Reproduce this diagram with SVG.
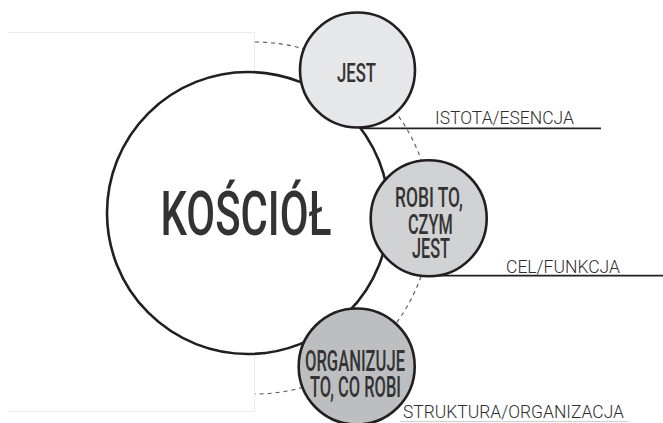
<svg xmlns="http://www.w3.org/2000/svg" width="663" height="423" viewBox="0 0 663 423">
  <style>
    .node { stroke: #231f20; stroke-width: 2.6; }
    .t { font-family: Roboto, "DejaVu Sans", "Liberation Sans", sans-serif; font-weight: 500; fill: #333333; text-anchor: middle; }
    .lbl { font-family: Roboto, "DejaVu Sans", "Liberation Sans", sans-serif; font-weight: 300; fill: #2e2e2e; font-size: 18px; }
    .rule { stroke: #231f20; stroke-width: 1.8; fill: none; }
  </style>
  <rect width="663" height="423" fill="#ffffff"/>
  <!-- faint frame -->
  <path d="M8 32.5 H254.5 V411.5 H8" fill="none" stroke="#ececec" stroke-width="1"/>

  <g id="connectors">
    <path id="orbit" d="M255 42 A176 176 0 0 1 255 394" fill="none" stroke="#555555" stroke-width="1.1" stroke-dasharray="4 4"/>
    <line class="rule" x1="357" y1="128.3" x2="601" y2="128.3"/>
    <line class="rule" x1="428" y1="275.7" x2="663" y2="275.7"/>
    <line x1="400" y1="421.5" x2="628" y2="421.5" stroke="#cfcfcf" stroke-width="1"/>
  </g>

  <g id="kosciol">
    <circle cx="248" cy="213" r="141" fill="#ffffff" stroke="#231f20" stroke-width="2.6"/>
    <text class="t" x="246" y="235" font-size="62" textLength="171" lengthAdjust="spacingAndGlyphs">KOŚCIÓŁ</text>
  </g>

  <g id="jest">
    <circle class="node" cx="357.5" cy="70" r="57.5" fill="#e6e7e8"/>
    <text class="t" x="356.5" y="81.7" font-size="26" textLength="39" lengthAdjust="spacingAndGlyphs">JEST</text>
  </g>

  <g id="robi">
    <circle class="node" cx="428.7" cy="218.3" r="58" fill="#d1d2d4"/>
    <text class="t" x="429" y="207" font-size="28" textLength="68" lengthAdjust="spacingAndGlyphs">ROBI TO,</text>
    <text class="t" x="430.3" y="233.5" font-size="28" textLength="44.7" lengthAdjust="spacingAndGlyphs">CZYM</text>
    <text class="t" x="431" y="258.3" font-size="28" textLength="38" lengthAdjust="spacingAndGlyphs">JEST</text>
  </g>

  <g id="organizuje">
    <circle class="node" cx="356.7" cy="366.5" r="58" fill="#bcbec0"/>
    <text class="t" x="355" y="370.5" font-size="30" textLength="100" lengthAdjust="spacingAndGlyphs">ORGANIZUJE</text>
    <text class="t" x="355.5" y="396.5" font-size="30" textLength="91" lengthAdjust="spacingAndGlyphs">TO, CO ROBI</text>
  </g>

  <g id="labels">
    <text class="lbl" x="435" y="124" textLength="139" lengthAdjust="spacingAndGlyphs">ISTOTA/ESENCJA</text>
    <text class="lbl" x="506" y="272.5" textLength="114" lengthAdjust="spacingAndGlyphs">CEL/FUNKCJA</text>
    <text class="lbl" x="403" y="418" textLength="221" lengthAdjust="spacingAndGlyphs">STRUKTURA/ORGANIZACJA</text>
  </g>
</svg>
